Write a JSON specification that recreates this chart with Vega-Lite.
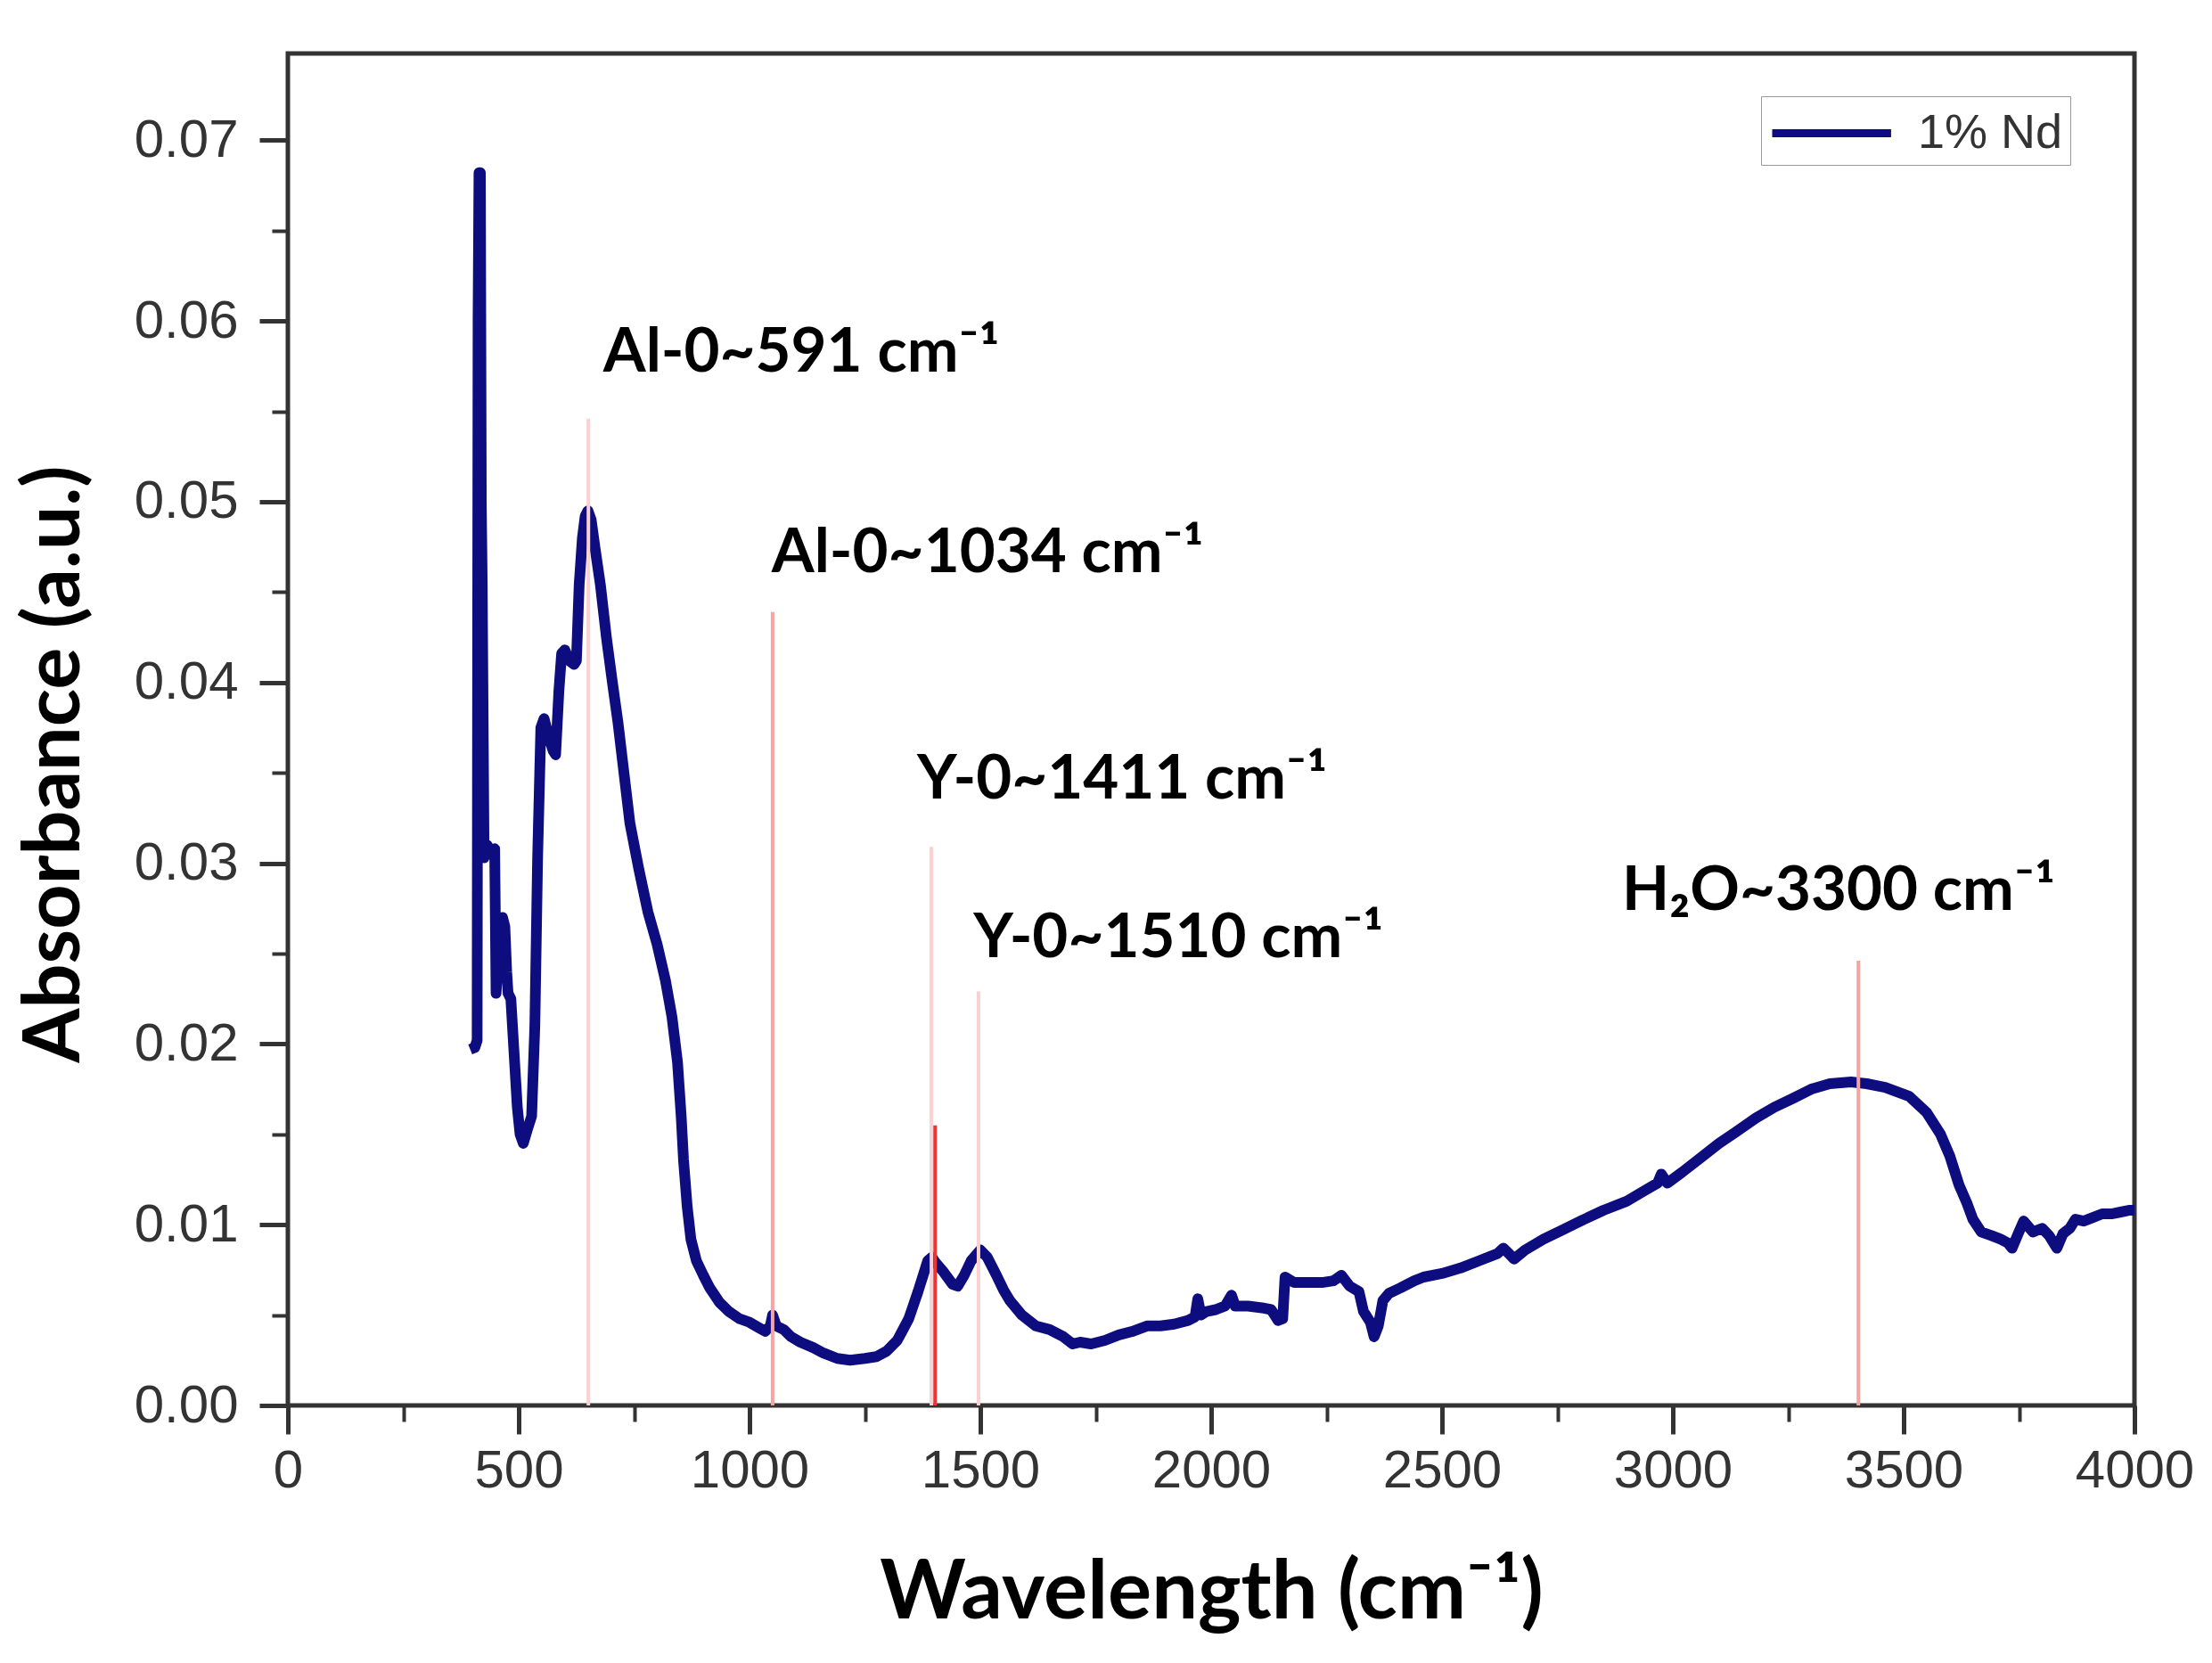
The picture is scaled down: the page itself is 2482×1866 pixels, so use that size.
{
  "$schema": "https://vega.github.io/schema/vega-lite/v6.json",
  "width": 2072,
  "height": 1517,
  "autosize": {"type": "none"},
  "padding": {"left": 323, "top": 60, "right": 87, "bottom": 289},
  "background": "white",
  "config": {
    "view": {"stroke": "#333333", "strokeWidth": 5},
    "axis": {
      "grid": false,
      "domain": false,
      "tickColor": "#333333",
      "labelFont": "Liberation Sans",
      "labelColor": "#333333",
      "labelFontSize": 60,
      "labelFlush": false,
      "labelOverlap": false,
      "titleFont": "Lato",
      "titleFontWeight": "bold",
      "titleColor": "black"
    }
  },
  "datasets": {
    "spectrum": [
      {"wn": 395, "abs": 0.0197, "sample": "1% Nd"}, {"wn": 405, "abs": 0.0198, "sample": "1% Nd"}, {"wn": 410, "abs": 0.0202, "sample": "1% Nd"},
      {"wn": 412, "abs": 0.060, "sample": "1% Nd"}, {"wn": 414, "abs": 0.0682, "sample": "1% Nd"}, {"wn": 417, "abs": 0.0682, "sample": "1% Nd"},
      {"wn": 419, "abs": 0.050, "sample": "1% Nd"}, {"wn": 421, "abs": 0.0454, "sample": "1% Nd"}, {"wn": 423, "abs": 0.038, "sample": "1% Nd"},
      {"wn": 425, "abs": 0.0303, "sample": "1% Nd"}, {"wn": 432, "abs": 0.0310, "sample": "1% Nd"}, {"wn": 440, "abs": 0.0305, "sample": "1% Nd"},
      {"wn": 448, "abs": 0.0308, "sample": "1% Nd"}, {"wn": 451, "abs": 0.0228, "sample": "1% Nd"}, {"wn": 458, "abs": 0.0260, "sample": "1% Nd"},
      {"wn": 465, "abs": 0.0270, "sample": "1% Nd"}, {"wn": 470, "abs": 0.0265, "sample": "1% Nd"}, {"wn": 474, "abs": 0.0240, "sample": "1% Nd"},
      {"wn": 477, "abs": 0.0228, "sample": "1% Nd"}, {"wn": 483, "abs": 0.0225, "sample": "1% Nd"}, {"wn": 490, "abs": 0.0195, "sample": "1% Nd"},
      {"wn": 497, "abs": 0.0165, "sample": "1% Nd"}, {"wn": 503, "abs": 0.0150, "sample": "1% Nd"}, {"wn": 510, "abs": 0.0145, "sample": "1% Nd"},
      {"wn": 518, "abs": 0.0152, "sample": "1% Nd"}, {"wn": 528, "abs": 0.0160, "sample": "1% Nd"}, {"wn": 535, "abs": 0.0210, "sample": "1% Nd"},
      {"wn": 541, "abs": 0.0303, "sample": "1% Nd"}, {"wn": 548, "abs": 0.0375, "sample": "1% Nd"}, {"wn": 555, "abs": 0.0380, "sample": "1% Nd"},
      {"wn": 565, "abs": 0.0370, "sample": "1% Nd"}, {"wn": 575, "abs": 0.0362, "sample": "1% Nd"}, {"wn": 580, "abs": 0.0360, "sample": "1% Nd"},
      {"wn": 587, "abs": 0.0395, "sample": "1% Nd"}, {"wn": 593, "abs": 0.0416, "sample": "1% Nd"}, {"wn": 600, "abs": 0.0418, "sample": "1% Nd"},
      {"wn": 610, "abs": 0.0412, "sample": "1% Nd"}, {"wn": 620, "abs": 0.0410, "sample": "1% Nd"}, {"wn": 625, "abs": 0.0412, "sample": "1% Nd"},
      {"wn": 631, "abs": 0.0454, "sample": "1% Nd"}, {"wn": 638, "abs": 0.0480, "sample": "1% Nd"}, {"wn": 644, "abs": 0.0492, "sample": "1% Nd"},
      {"wn": 650, "abs": 0.0495, "sample": "1% Nd"}, {"wn": 657, "abs": 0.0490, "sample": "1% Nd"}, {"wn": 665, "abs": 0.0475, "sample": "1% Nd"},
      {"wn": 677, "abs": 0.0454, "sample": "1% Nd"}, {"wn": 690, "abs": 0.0425, "sample": "1% Nd"}, {"wn": 703, "abs": 0.0400, "sample": "1% Nd"},
      {"wn": 715, "abs": 0.0378, "sample": "1% Nd"}, {"wn": 728, "abs": 0.0350, "sample": "1% Nd"}, {"wn": 741, "abs": 0.0322, "sample": "1% Nd"},
      {"wn": 760, "abs": 0.0297, "sample": "1% Nd"}, {"wn": 780, "abs": 0.0273, "sample": "1% Nd"}, {"wn": 800, "abs": 0.0255, "sample": "1% Nd"},
      {"wn": 818, "abs": 0.0235, "sample": "1% Nd"}, {"wn": 832, "abs": 0.0215, "sample": "1% Nd"}, {"wn": 844, "abs": 0.0190, "sample": "1% Nd"},
      {"wn": 852, "abs": 0.0160, "sample": "1% Nd"}, {"wn": 857, "abs": 0.0136, "sample": "1% Nd"}, {"wn": 865, "abs": 0.0110, "sample": "1% Nd"},
      {"wn": 873, "abs": 0.0092, "sample": "1% Nd"}, {"wn": 885, "abs": 0.0080, "sample": "1% Nd"}, {"wn": 900, "abs": 0.0072, "sample": "1% Nd"},
      {"wn": 914, "abs": 0.0065, "sample": "1% Nd"}, {"wn": 935, "abs": 0.0057, "sample": "1% Nd"}, {"wn": 955, "abs": 0.0052, "sample": "1% Nd"},
      {"wn": 978, "abs": 0.0048, "sample": "1% Nd"}, {"wn": 1000, "abs": 0.0046, "sample": "1% Nd"}, {"wn": 1020, "abs": 0.0043, "sample": "1% Nd"},
      {"wn": 1034, "abs": 0.0041, "sample": "1% Nd"}, {"wn": 1045, "abs": 0.0044, "sample": "1% Nd"}, {"wn": 1050, "abs": 0.0050, "sample": "1% Nd"},
      {"wn": 1058, "abs": 0.0044, "sample": "1% Nd"}, {"wn": 1074, "abs": 0.0042, "sample": "1% Nd"}, {"wn": 1090, "abs": 0.0038, "sample": "1% Nd"},
      {"wn": 1110, "abs": 0.0035, "sample": "1% Nd"}, {"wn": 1138, "abs": 0.0032, "sample": "1% Nd"}, {"wn": 1160, "abs": 0.0029, "sample": "1% Nd"},
      {"wn": 1190, "abs": 0.0026, "sample": "1% Nd"}, {"wn": 1218, "abs": 0.0025, "sample": "1% Nd"}, {"wn": 1250, "abs": 0.0026, "sample": "1% Nd"},
      {"wn": 1275, "abs": 0.0027, "sample": "1% Nd"}, {"wn": 1297, "abs": 0.0030, "sample": "1% Nd"}, {"wn": 1320, "abs": 0.0036, "sample": "1% Nd"},
      {"wn": 1345, "abs": 0.0048, "sample": "1% Nd"}, {"wn": 1365, "abs": 0.0063, "sample": "1% Nd"}, {"wn": 1386, "abs": 0.0080, "sample": "1% Nd"},
      {"wn": 1395, "abs": 0.0082, "sample": "1% Nd"}, {"wn": 1403, "abs": 0.0079, "sample": "1% Nd"}, {"wn": 1420, "abs": 0.0074, "sample": "1% Nd"},
      {"wn": 1440, "abs": 0.0067, "sample": "1% Nd"}, {"wn": 1451, "abs": 0.0066, "sample": "1% Nd"}, {"wn": 1465, "abs": 0.0072, "sample": "1% Nd"},
      {"wn": 1480, "abs": 0.0080, "sample": "1% Nd"}, {"wn": 1500, "abs": 0.0086, "sample": "1% Nd"}, {"wn": 1515, "abs": 0.0082, "sample": "1% Nd"},
      {"wn": 1535, "abs": 0.0072, "sample": "1% Nd"}, {"wn": 1550, "abs": 0.0064, "sample": "1% Nd"}, {"wn": 1564, "abs": 0.0058, "sample": "1% Nd"},
      {"wn": 1590, "abs": 0.0050, "sample": "1% Nd"}, {"wn": 1620, "abs": 0.0044, "sample": "1% Nd"}, {"wn": 1650, "abs": 0.0042, "sample": "1% Nd"},
      {"wn": 1680, "abs": 0.0038, "sample": "1% Nd"}, {"wn": 1700, "abs": 0.0034, "sample": "1% Nd"}, {"wn": 1716, "abs": 0.0035, "sample": "1% Nd"},
      {"wn": 1740, "abs": 0.0034, "sample": "1% Nd"}, {"wn": 1770, "abs": 0.0036, "sample": "1% Nd"}, {"wn": 1800, "abs": 0.0039, "sample": "1% Nd"},
      {"wn": 1830, "abs": 0.0041, "sample": "1% Nd"}, {"wn": 1861, "abs": 0.0044, "sample": "1% Nd"}, {"wn": 1890, "abs": 0.0044, "sample": "1% Nd"},
      {"wn": 1920, "abs": 0.0045, "sample": "1% Nd"}, {"wn": 1950, "abs": 0.0047, "sample": "1% Nd"}, {"wn": 1965, "abs": 0.0049, "sample": "1% Nd"},
      {"wn": 1971, "abs": 0.0059, "sample": "1% Nd"}, {"wn": 1978, "abs": 0.0050, "sample": "1% Nd"}, {"wn": 1990, "abs": 0.0052, "sample": "1% Nd"},
      {"wn": 2010, "abs": 0.0053, "sample": "1% Nd"}, {"wn": 2030, "abs": 0.0055, "sample": "1% Nd"}, {"wn": 2044, "abs": 0.0061, "sample": "1% Nd"},
      {"wn": 2052, "abs": 0.0055, "sample": "1% Nd"}, {"wn": 2080, "abs": 0.0055, "sample": "1% Nd"}, {"wn": 2110, "abs": 0.0054, "sample": "1% Nd"},
      {"wn": 2130, "abs": 0.0053, "sample": "1% Nd"}, {"wn": 2145, "abs": 0.0047, "sample": "1% Nd"}, {"wn": 2155, "abs": 0.0048, "sample": "1% Nd"},
      {"wn": 2160, "abs": 0.0071, "sample": "1% Nd"}, {"wn": 2180, "abs": 0.0068, "sample": "1% Nd"}, {"wn": 2210, "abs": 0.0068, "sample": "1% Nd"},
      {"wn": 2240, "abs": 0.0068, "sample": "1% Nd"}, {"wn": 2265, "abs": 0.0069, "sample": "1% Nd"}, {"wn": 2282, "abs": 0.0072, "sample": "1% Nd"},
      {"wn": 2300, "abs": 0.0066, "sample": "1% Nd"}, {"wn": 2320, "abs": 0.0063, "sample": "1% Nd"}, {"wn": 2330, "abs": 0.0052, "sample": "1% Nd"},
      {"wn": 2345, "abs": 0.0046, "sample": "1% Nd"}, {"wn": 2353, "abs": 0.0038, "sample": "1% Nd"}, {"wn": 2362, "abs": 0.0044, "sample": "1% Nd"},
      {"wn": 2372, "abs": 0.0058, "sample": "1% Nd"}, {"wn": 2385, "abs": 0.0062, "sample": "1% Nd"}, {"wn": 2410, "abs": 0.0065, "sample": "1% Nd"},
      {"wn": 2440, "abs": 0.0069, "sample": "1% Nd"}, {"wn": 2460, "abs": 0.0071, "sample": "1% Nd"}, {"wn": 2500, "abs": 0.0073, "sample": "1% Nd"},
      {"wn": 2540, "abs": 0.0076, "sample": "1% Nd"}, {"wn": 2580, "abs": 0.0080, "sample": "1% Nd"}, {"wn": 2620, "abs": 0.0084, "sample": "1% Nd"},
      {"wn": 2633, "abs": 0.0087, "sample": "1% Nd"}, {"wn": 2645, "abs": 0.0084, "sample": "1% Nd"}, {"wn": 2656, "abs": 0.0081, "sample": "1% Nd"},
      {"wn": 2680, "abs": 0.0086, "sample": "1% Nd"}, {"wn": 2720, "abs": 0.0092, "sample": "1% Nd"}, {"wn": 2760, "abs": 0.0097, "sample": "1% Nd"},
      {"wn": 2800, "abs": 0.0102, "sample": "1% Nd"}, {"wn": 2850, "abs": 0.0108, "sample": "1% Nd"}, {"wn": 2900, "abs": 0.0113, "sample": "1% Nd"},
      {"wn": 2940, "abs": 0.0119, "sample": "1% Nd"}, {"wn": 2967, "abs": 0.0123, "sample": "1% Nd"}, {"wn": 2975, "abs": 0.0128, "sample": "1% Nd"},
      {"wn": 2988, "abs": 0.0123, "sample": "1% Nd"}, {"wn": 3020, "abs": 0.0129, "sample": "1% Nd"}, {"wn": 3060, "abs": 0.0137, "sample": "1% Nd"},
      {"wn": 3100, "abs": 0.0145, "sample": "1% Nd"}, {"wn": 3135, "abs": 0.0151, "sample": "1% Nd"}, {"wn": 3180, "abs": 0.0159, "sample": "1% Nd"},
      {"wn": 3220, "abs": 0.0165, "sample": "1% Nd"}, {"wn": 3261, "abs": 0.0170, "sample": "1% Nd"}, {"wn": 3300, "abs": 0.0175, "sample": "1% Nd"},
      {"wn": 3340, "abs": 0.0178, "sample": "1% Nd"}, {"wn": 3386, "abs": 0.0179, "sample": "1% Nd"}, {"wn": 3420, "abs": 0.0178, "sample": "1% Nd"},
      {"wn": 3460, "abs": 0.0176, "sample": "1% Nd"}, {"wn": 3512, "abs": 0.0171, "sample": "1% Nd"}, {"wn": 3550, "abs": 0.0162, "sample": "1% Nd"},
      {"wn": 3580, "abs": 0.0150, "sample": "1% Nd"}, {"wn": 3600, "abs": 0.0138, "sample": "1% Nd"}, {"wn": 3620, "abs": 0.0122, "sample": "1% Nd"},
      {"wn": 3637, "abs": 0.0112, "sample": "1% Nd"}, {"wn": 3650, "abs": 0.0103, "sample": "1% Nd"}, {"wn": 3668, "abs": 0.0096, "sample": "1% Nd"},
      {"wn": 3690, "abs": 0.0094, "sample": "1% Nd"}, {"wn": 3710, "abs": 0.0092, "sample": "1% Nd"}, {"wn": 3725, "abs": 0.0090, "sample": "1% Nd"},
      {"wn": 3735, "abs": 0.0087, "sample": "1% Nd"}, {"wn": 3748, "abs": 0.0095, "sample": "1% Nd"}, {"wn": 3760, "abs": 0.0102, "sample": "1% Nd"},
      {"wn": 3780, "abs": 0.0096, "sample": "1% Nd"}, {"wn": 3800, "abs": 0.0098, "sample": "1% Nd"}, {"wn": 3815, "abs": 0.0094, "sample": "1% Nd"},
      {"wn": 3832, "abs": 0.0087, "sample": "1% Nd"}, {"wn": 3845, "abs": 0.0095, "sample": "1% Nd"}, {"wn": 3860, "abs": 0.0098, "sample": "1% Nd"},
      {"wn": 3872, "abs": 0.0103, "sample": "1% Nd"}, {"wn": 3890, "abs": 0.0102, "sample": "1% Nd"}, {"wn": 3910, "abs": 0.0104, "sample": "1% Nd"},
      {"wn": 3930, "abs": 0.0106, "sample": "1% Nd"}, {"wn": 3950, "abs": 0.0106, "sample": "1% Nd"}, {"wn": 3970, "abs": 0.0107, "sample": "1% Nd"},
      {"wn": 3990, "abs": 0.0108, "sample": "1% Nd"}, {"wn": 4000, "abs": 0.0108, "sample": "1% Nd"}
    ],
    "bands": [
      {"wn": 651, "top": 0.0546, "tone": "faint"},
      {"wn": 1050, "top": 0.0439, "tone": "medium"},
      {"wn": 1394, "top": 0.0309, "tone": "faint"},
      {"wn": 1402, "top": 0.0155, "tone": "strong"},
      {"wn": 1496, "top": 0.0229, "tone": "faint"},
      {"wn": 3402, "top": 0.0246, "tone": "medium"}
    ],
    "labels": [
      {"wn": 683, "abs": 0.0572, "text": "Al-0~591 cm⁻¹"},
      {"wn": 1048, "abs": 0.0461, "text": "Al-0~1034 cm⁻¹"},
      {"wn": 1363, "abs": 0.0336, "text": "Y-0~1411 cm⁻¹"},
      {"wn": 1485, "abs": 0.0248, "text": "Y-0~1510 cm⁻¹"},
      {"wn": 2890, "abs": 0.0274, "text": "H₂O~3300 cm⁻¹"}
    ]
  },
  "layer": [
    {
      "data": {"name": "spectrum"},
      "mark": {"type": "line", "strokeWidth": 12, "strokeJoin": "round"},
      "encoding": {
        "x": {
          "field": "wn", "type": "quantitative",
          "scale": {"domain": [0, 4000], "nice": false},
          "axis": {
            "orient": "bottom",
            "values": [0, 500, 1000, 1500, 2000, 2500, 3000, 3500, 4000],
            "format": "d",
            "tickSize": 32, "tickWidth": 5, "labelPadding": 12,
            "title": "Wavelength (cm⁻¹)", "titleFontSize": 92, "titlePadding": 62
          }
        },
        "y": {
          "field": "abs", "type": "quantitative",
          "scale": {"domain": [0, 0.0748], "nice": false, "zero": false},
          "axis": {
            "orient": "left",
            "values": [0, 0.01, 0.02, 0.03, 0.04, 0.05, 0.06, 0.07],
            "format": ".2f",
            "tickSize": 32, "tickWidth": 5, "labelPadding": 24,
            "title": "Absorbance (a.u.)", "titleFontSize": 88, "titlePadding": 44, "titleY": 797
          }
        },
        "color": {
          "field": "sample", "type": "nominal",
          "scale": {"range": ["#0d0d80"]},
          "legend": {
            "orient": "none", "legendX": 1653, "legendY": 48,
            "title": null,
            "symbolType": "M-1,0H3.6", "symbolSize": 3364, "symbolStrokeWidth": 9,
            "symbolFillColor": "transparent",
            "labelFont": "Liberation Sans", "labelFontSize": 54, "labelColor": "#333333",
            "labelOffset": 101, "labelLimit": 500, "padding": 8,
            "strokeColor": "#999999", "fillColor": "white"
          }
        }
      }
    },
    {
      "data": {"name": "bands"},
      "mark": {"type": "rule", "strokeWidth": 4},
      "encoding": {
        "x": {
          "field": "wn", "type": "quantitative",
          "axis": {
            "orient": "bottom",
            "values": [250, 750, 1250, 1750, 2250, 2750, 3250, 3750],
            "labels": false, "tickSize": 18, "tickWidth": 4, "title": null
          }
        },
        "y": {
          "field": "top", "type": "quantitative",
          "axis": {
            "orient": "left",
            "values": [0.005, 0.015, 0.025, 0.035, 0.045, 0.055, 0.065],
            "labels": false, "tickSize": 18, "tickWidth": 4, "title": null
          }
        },
        "y2": {"datum": 0},
        "color": {
          "field": "tone", "type": "nominal",
          "scale": {"domain": ["faint", "medium", "strong"], "range": ["#fad0d0", "#f5a3a3", "#ec3535"]},
          "legend": null
        }
      }
    },
    {
      "data": {"name": "labels"},
      "mark": {"type": "text", "align": "left", "baseline": "alphabetic", "font": "Lato", "fontWeight": "bold", "fontSize": 69, "color": "black"},
      "encoding": {
        "x": {"field": "wn", "type": "quantitative", "axis": null},
        "y": {"field": "abs", "type": "quantitative", "axis": null},
        "text": {"field": "text"}
      }
    }
  ],
  "resolve": {
    "axis": {"x": "independent", "y": "independent"},
    "scale": {"color": "independent"}
  }
}
